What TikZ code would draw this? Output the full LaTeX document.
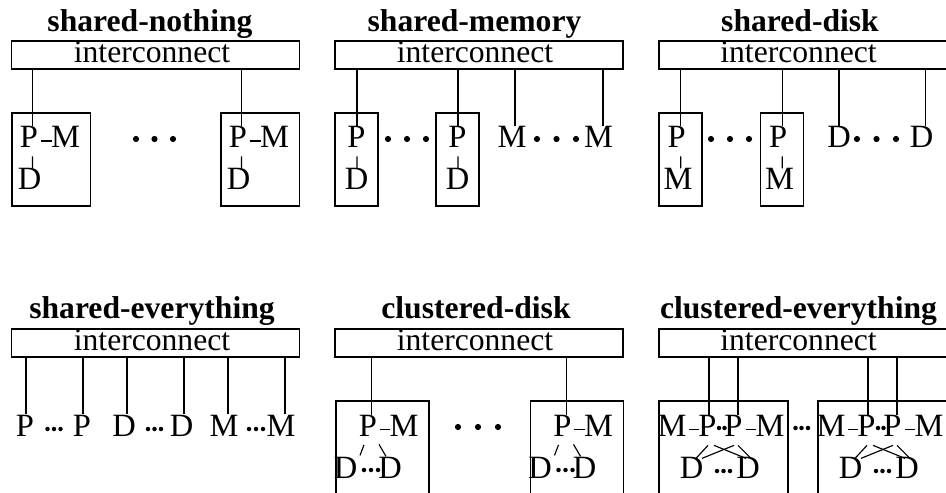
\documentclass[tikz,border=0pt]{standalone}
\usepackage{fontspec}
\setmainfont{Liberation Serif}
\usetikzlibrary{calc}

\tikzset{
  wire/.style={line width=0.65pt},
  unitbox/.style={line width=0.65pt},
  title/.style={font=\fontsize{18}{20}\selectfont\bfseries, anchor=base, inner sep=0pt},
  lt/.style={font=\fontsize{18.5}{20}\selectfont, anchor=base, inner sep=0pt},
  bus/.style={draw, line width=0.65pt, font=\fontsize{18}{20}\selectfont, inner sep=0pt,
    minimum height=0.56cm, text height=0.4cm, text depth=0.1cm},
}

% big and small ellipsis dots
\newcommand\bigdot[1]{\fill #1 circle[radius=0.062cm];}
\newcommand\smalldot[1]{\fill #1 circle[radius=0.045cm];}

% shared-nothing node: P-M over D in a box; #1 left edge, #2 prefix, #3 bus
\newcommand\nothingunit[3]{%
  \draw[unitbox] (#1,113) rectangle (#1+78.5,206);
  \node[lt] (#2P) at (#1+17,148) {P};
  \node[lt] (#2M) at (#1+53.5,148) {M};
  \node[lt] (#2D) at (#1+17.5,190) {D};
  \draw[wire] ([shift={(3,-7)}]#2P.base east) -- ([shift={(1.5,-7)}]#2M.base west);
  \draw[wire] ([shift={(3.5,8)}]#2P.south) -- ([xshift=0.07cm]#2P.south |- #2D.north);
  \draw[wire] ([xshift=0.07cm]#2P.north) -- ([xshift=0.07cm]#2P.north |- #3.south);
}

% shared-memory node: P over D in a narrow box
\newcommand\memunit[3]{%
  \draw[unitbox] (#1,113) rectangle (#1+43,206);
  \node[lt] (#2P) at (#1+21.5,148) {P};
  \node[lt] (#2D) at (#1+21.5,190) {D};
  \draw[wire] ([shift={(0.5,8)}]#2P.south) -- ([xshift=0.01cm]#2P.south |- #2D.north);
  \draw[wire] ([xshift=0.01cm]#2P.north) -- ([xshift=0.01cm]#2P.north |- #3.south);
}

% shared-disk node: P over M in a narrow box
\newcommand\diskunit[3]{%
  \draw[unitbox] (#1,113) rectangle (#1+43,206);
  \node[lt] (#2P) at (#1+17.7,148) {P};
  \node[lt] (#2M) at (#1+19,190) {M};
  \draw[wire] ([shift={(4,8)}]#2P.south) -- ([xshift=0.08cm]#2P.south |- #2M.north);
  \draw[wire] ([xshift=0.08cm]#2P.north) -- ([xshift=0.08cm]#2P.north |- #3.south);
}

% clustered-disk node: P-M over a row of disks
\newcommand\cdunit[3]{%
  \draw[unitbox] (#1,497) -- (#1,401) -- (#1+93,401) -- (#1+93,497);
  \node[lt] (#2P) at (#1+32,436.5) {P};
  \node[lt] (#2M) at (#1+68,436.5) {M};
  \node[lt] (#2Da) at (#1+9.5,478) {D};
  \node[lt] (#2Db) at (#1+54,478) {D};
  \smalldot{(#1+28,470)}\smalldot{(#1+35,470)}\smalldot{(#1+42,470)}
  \draw[wire] ([shift={(2.5,-7)}]#2P.base east) -- ([shift={(1,-7)}]#2M.base west);
  \draw[wire] ([shift={(-4,8)}]#2P.south) -- ([shift={(14.5,-1)}]#2Da.north);
  \draw[wire] ([shift={(11,7.5)}]#2P.south) -- ([shift={(-4,0)}]#2Db.north);
  \draw[wire] ([xshift=0.074cm]#2P.north) -- ([xshift=0.074cm]#2P.north |- #3.south);
}

% clustered-everything node: M-P..P-M over a row of disks, cross-wired
\newcommand\ceunit[3]{%
  \draw[unitbox] (#1,497) -- (#1,401) -- (#1+129,401) -- (#1+129,497);
  \node[lt] (#2Ma) at (#1+13,436.5) {M};
  \node[lt] (#2Pa) at (#1+48.5,436.5) {P};
  \node[lt] (#2Pb) at (#1+74.5,436.5) {P};
  \node[lt] (#2Mb) at (#1+111,436.5) {M};
  \node[lt] (#2Da) at (#1+32.5,478) {D};
  \node[lt] (#2Db) at (#1+89,478) {D};
  \smalldot{(#1+60,428)}\smalldot{(#1+65.5,428)}
  \smalldot{(#1+58,471)}\smalldot{(#1+64.5,471)}\smalldot{(#1+71,471)}
  \draw[wire] ([shift={(2,-7)}]#2Ma.base east) -- ([shift={(1.3,-7)}]#2Pa.base west);
  \draw[wire] ([shift={(2.7,-7)}]#2Pb.base east) -- ([shift={(1,-7)}]#2Mb.base west);
  \draw[wire] ([shift={(0.5,8.5)}]#2Pa.south) -- ([shift={(4.5,2)}]#2Da.north);
  \draw[wire] ([shift={(6.5,8.5)}]#2Pa.south) -- ([shift={(-2,2)}]#2Db.north);
  \draw[wire] ([shift={(0.5,8.5)}]#2Pb.south) -- ([shift={(10.5,2)}]#2Da.north);
  \draw[wire] ([shift={(4.5,8.5)}]#2Pb.south) -- ([shift={(3,2)}]#2Db.north);
  \draw[wire] ([xshift=0.03cm]#2Pa.north) -- ([xshift=0.03cm]#2Pa.north |- #3.south);
  \draw[wire] ([xshift=0.09cm]#2Pb.north) -- ([xshift=0.09cm]#2Pb.north |- #3.south);
}

\begin{document}
\begin{tikzpicture}[x=0.02cm, y=-0.02cm]
  \fill[white] (0,0) rectangle (946,493);
  \useasboundingbox (0,0) rectangle (946,493);

  % ---------- shared-nothing ----------
  \node[title] (t1) at (150,32) {shared-nothing};
  \node[bus, minimum width=5.76cm] (ic1) at (155.5,55) {interconnect\kern0.14cm};
  \nothingunit{12}{sna}{ic1}
  \nothingunit{221}{snb}{ic1}
  \bigdot{(136,139)}\bigdot{(154.5,139)}\bigdot{(173,139)}

  % ---------- shared-memory ----------
  \node[title] (t2) at (474.5,32) {shared-memory};
  \node[bus, minimum width=5.76cm] (ic2) at (479,55) {interconnect\kern0.16cm};
  \memunit{335}{sma}{ic2}
  \memunit{436}{smb}{ic2}
  \node[lt] (smMa) at (512,148) {M};
  \node[lt] (smMb) at (598.5,148) {M};
  \draw[wire] ([xshift=0.06cm]smMa.north) -- ([xshift=0.06cm]smMa.north |- ic2.south);
  \draw[wire] ([xshift=0.09cm]smMb.north) -- ([xshift=0.09cm]smMb.north |- ic2.south);
  \bigdot{(388,139)}\bigdot{(407,139)}\bigdot{(426,139)}
  \bigdot{(537,139)}\bigdot{(556.5,139)}\bigdot{(576,139)}

  % ---------- shared-disk ----------
  \node[title] (t3) at (800,32) {shared-disk};
  \node[bus, minimum width=5.78cm] (ic3) at (803.5,55) {interconnect\kern0.2cm};
  \diskunit{659}{sda}{ic3}
  \diskunit{760.5}{sdb}{ic3}
  \node[lt] (sdDa) at (839,148) {D};
  \node[lt] (sdDb) at (921.7,148) {D};
  \draw[wire] (sdDa.north) -- (sdDa.north |- ic3.south);
  \draw[wire] ([xshift=0.08cm]sdDb.north) -- ([xshift=0.08cm]sdDb.north |- ic3.south);
  \bigdot{(711,139)}\bigdot{(730,139)}\bigdot{(749,139)}
  \bigdot{(857,139)}\bigdot{(876.5,139)}\bigdot{(896,139)}

  % ---------- shared-everything ----------
  \node[title] (t4) at (152,318) {shared-everything};
  \node[bus, minimum width=5.76cm] (ic4) at (155.5,343) {interconnect\kern0.14cm};
  \node[lt] (sePa) at (25,436) {P};
  \node[lt] (sePb) at (82,436) {P};
  \node[lt] (seDa) at (124,436) {D};
  \node[lt] (seDb) at (181.5,436) {D};
  \node[lt] (seMa) at (224,436) {M};
  \node[lt] (seMb) at (281,436) {M};
  \draw[wire] ([xshift=0.02cm]sePa.north) -- ([xshift=0.02cm]sePa.north |- ic4.south);
  \draw[wire] ([xshift=0.02cm]sePb.north) -- ([xshift=0.02cm]sePb.north |- ic4.south);
  \draw[wire] ([xshift=0.06cm]seDa.north) -- ([xshift=0.06cm]seDa.north |- ic4.south);
  \draw[wire] ([xshift=0.05cm]seDb.north) -- ([xshift=0.05cm]seDb.north |- ic4.south);
  \draw[wire] ([xshift=0.08cm]seMa.north) -- ([xshift=0.08cm]seMa.north |- ic4.south);
  \draw[wire] ([xshift=0.08cm]seMb.north) -- ([xshift=0.08cm]seMb.north |- ic4.south);
  \smalldot{(47.5,429)}\smalldot{(54,429)}\smalldot{(60.5,429)}
  \smalldot{(148,429)}\smalldot{(154.5,429)}\smalldot{(161,429)}
  \smalldot{(249,429)}\smalldot{(256,429)}\smalldot{(263,429)}

  % ---------- clustered-disk ----------
  \node[title] (t5) at (476,318) {clustered-disk};
  \node[bus, minimum width=5.76cm] (ic5) at (479,343) {interconnect\kern0.16cm};
  \cdunit{336}{cda}{ic5}
  \cdunit{530.5}{cdb}{ic5}
  \bigdot{(458,427)}\bigdot{(478,427)}\bigdot{(498,427)}

  % ---------- clustered-everything ----------
  \node[title] (t6) at (798.5,318) {clustered-everything};
  \node[bus, minimum width=5.78cm] (ic6) at (803.5,343) {interconnect\kern0.2cm};
  \ceunit{659}{cea}{ic6}
  \ceunit{818}{ceb}{ic6}
  \smalldot{(795.5,428)}\smalldot{(801.5,428)}\smalldot{(808,428)}
\end{tikzpicture}
\end{document}
